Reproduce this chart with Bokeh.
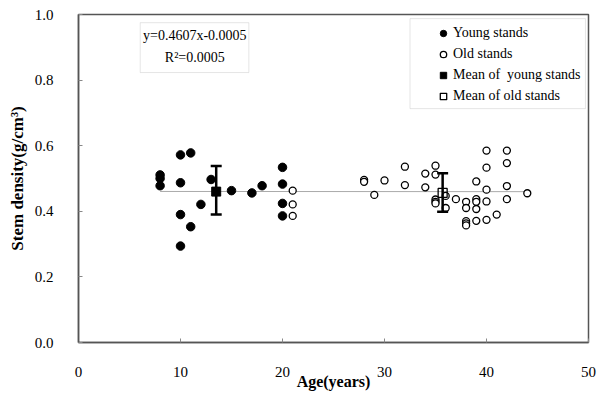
from bokeh.plotting import figure
from bokeh.models import (Range1d, FixedTicker, Legend, LegendItem, Whisker, ColumnDataSource,
                          Label, BoxAnnotation, TeeHead, NumeralTickFormatter)
from bokeh.embed import file_html
from bokeh.resources import INLINE

# ---- data ----
young_age = [8, 8, 8, 10, 10, 10, 10, 11, 11, 12, 13, 15, 17, 18, 20, 20, 20, 20]
young_density = [0.511, 0.500, 0.478, 0.572, 0.487, 0.390, 0.294, 0.578, 0.353, 0.421,
                 0.497, 0.463, 0.456, 0.478, 0.534, 0.483, 0.424, 0.386]

old_age = [21, 21, 21, 28, 28, 29, 30, 32, 32, 34, 34, 35, 35, 35, 35, 35, 36, 36, 37,
           38, 38, 38, 38, 38, 39, 39, 39, 39, 39, 40, 40, 40, 40, 40, 41, 42, 42, 42, 42, 44]
old_density = [0.463, 0.421, 0.386, 0.496, 0.490, 0.450, 0.494, 0.536, 0.480, 0.515, 0.473,
               0.539, 0.512, 0.436, 0.429, 0.424, 0.447, 0.410, 0.437,
               0.429, 0.410, 0.370, 0.363, 0.357, 0.491, 0.437, 0.429, 0.407, 0.371,
               0.585, 0.533, 0.466, 0.430, 0.374, 0.390, 0.585, 0.547, 0.477, 0.437, 0.455]

mean_young_age = [13.5]
mean_young_density = [0.460]
mean_young_upper = [0.538]
mean_young_lower = [0.390]

mean_old_age = [35.7]
mean_old_density = [0.456]
mean_old_upper = [0.516]
mean_old_lower = [0.399]

trend_x = [8, 44]
trend_y = [0.4605, 0.4599]

x_ticks = [0, 10, 20, 30, 40, 50]
y_ticks = [0.0, 0.2, 0.4, 0.6, 0.8, 1.0]

equation_text = "y=0.4607x-0.0005"
r2_text = "R\u00b2=0.0005"

FONT = "Liberation Serif"
FRAME = "#555555"

p = figure(width=597, height=396, output_backend="svg", toolbar_location=None,
           x_range=Range1d(0, 50), y_range=Range1d(0, 1),
           min_border_left=78, min_border_right=9, min_border_top=14, min_border_bottom=54)
p.xgrid.visible = False
p.ygrid.visible = False
p.outline_line_color = FRAME
p.outline_line_width = 1.5
p.background_fill_color = "white"

for ax in (p.xaxis[0], p.yaxis[0]):
    ax.axis_line_color = FRAME
    ax.axis_line_width = 1.5
    ax.major_tick_in = 4
    ax.major_tick_out = 0
    ax.major_tick_line_color = "#888888"
    ax.minor_tick_line_color = None
    ax.major_label_text_font = FONT
    ax.major_label_text_font_size = "15px"
    ax.major_label_text_color = "black"
    ax.axis_label_text_font = FONT
    ax.axis_label_text_font_style = "bold"
    ax.axis_label_text_font_size = "16px"
    ax.axis_label_text_color = "black"

p.yaxis.axis_label_text_font_size = "17px"
p.xaxis.ticker = FixedTicker(ticks=x_ticks)
p.yaxis.ticker = FixedTicker(ticks=y_ticks)
p.xaxis.formatter = NumeralTickFormatter(format="0")
p.yaxis.formatter = NumeralTickFormatter(format="0.0")
p.xaxis.axis_label = "Age(years)"
p.yaxis.axis_label = "Stem density(g/cm\u00b3)"
p.xaxis.major_label_standoff = 24
p.xaxis.axis_label_standoff = -7
p.yaxis.major_label_standoff = 25
p.yaxis.axis_label_standoff = 5

# trend line
p.line(trend_x, trend_y, line_color="#aaaaaa", line_width=1)

# error bars
src_y = ColumnDataSource(dict(x=mean_young_age, upper=mean_young_upper, lower=mean_young_lower))
src_o = ColumnDataSource(dict(x=mean_old_age, upper=mean_old_upper, lower=mean_old_lower))
for src in (src_y, src_o):
    w = Whisker(source=src, base="x", upper="upper", lower="lower",
                line_color="black", line_width=2.5, level="glyph",
                upper_head=TeeHead(size=11, line_width=2.5, line_color="black"),
                lower_head=TeeHead(size=11, line_width=2.5, line_color="black"))
    p.add_layout(w)

r_young = p.scatter(young_age, young_density, marker="circle", size=8.5,
                    fill_color="black", line_color="black")
r_old = p.scatter(old_age, old_density, marker="circle", size=7,
                  fill_color="white", line_color="black", line_width=1.3)
r_my = p.scatter(mean_young_age, mean_young_density, marker="square", size=9,
                 fill_color="black", line_color="black")
r_mo = p.scatter(mean_old_age, mean_old_density, marker="square", size=9,
                 fill_color=None, line_color="black", line_width=1.3)

# equation box
eq_box = BoxAnnotation(left=6.05, right=16.7, top=0.975, bottom=0.823,
                       fill_color="white", fill_alpha=1, line_color="#aaaaaa",
                       line_width=1, level="underlay")
p.add_layout(eq_box)
p.add_layout(Label(x=11.4, y=0.936, text=equation_text, text_align="center",
                   text_baseline="middle", text_font=FONT, text_font_size="14px",
                   text_color="black"))
p.add_layout(Label(x=11.4, y=0.869, text=r2_text, text_align="center",
                   text_baseline="middle", text_font=FONT, text_font_size="14px",
                   text_color="black"))

# legend box + legend
leg_box = BoxAnnotation(left=32.5, right=49.7, top=0.9875, bottom=0.713,
                        fill_color="white", fill_alpha=1, line_color="#aaaaaa",
                        line_width=1, level="underlay")
p.add_layout(leg_box)

legend = Legend(items=[
    LegendItem(label="Young stands", renderers=[r_young]),
    LegendItem(label="Old stands", renderers=[r_old]),
    LegendItem(label="Mean of  young stands", renderers=[r_my]),
    LegendItem(label="Mean of old stands", renderers=[r_mo]),
], location=(357, 238))
legend.border_line_alpha = 0
legend.background_fill_alpha = 0
legend.padding = 0
legend.margin = 0
legend.spacing = 5
legend.glyph_width = 16
legend.glyph_height = 16
legend.label_height = 16
legend.label_standoff = 2
legend.label_text_font = FONT
legend.label_text_font_size = "14px"
legend.label_text_color = "black"
p.add_layout(legend)

open("out.html", "w").write(file_html(p, INLINE))
